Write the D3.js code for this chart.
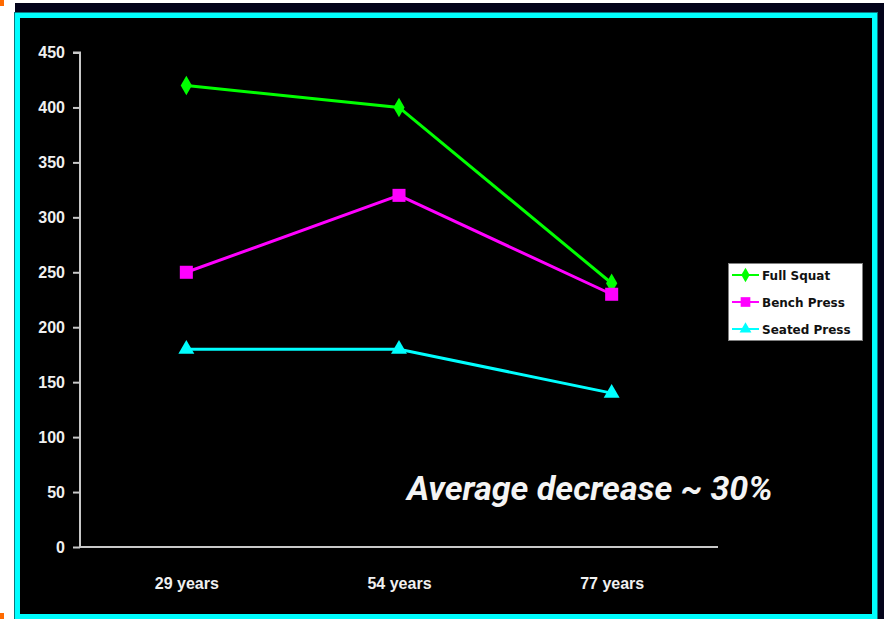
<!DOCTYPE html>
<html>
<head>
<meta charset="utf-8">
<script src="https://cdn.jsdelivr.net/npm/d3@7"></script>
<style>
  html, body { margin: 0; padding: 0; background: #ffffff; }
  svg { display: block; }
</style>
</head>
<body>
<script>
// Strength by age group (lbs)
const categories = ["29 years", "54 years", "77 years"];
const fullSquat = [420, 400, 240];
const benchPress = [250, 320, 230];
const seatedPress = [180, 180, 140];
const seriesNames = ["Full Squat", "Bench Press", "Seated Press"];
const yTicks = [0, 50, 100, 150, 200, 250, 300, 350, 400, 450];
const note = "Average decrease ~ 30%";

(function () {
const W = 884, H = 619;
const svg = d3.select("body").append("svg").attr("width", W).attr("height", H);

// Slide frame: dark backing, cyan border, black panel
svg.append("rect").attr("x", 0).attr("y", 0).attr("width", 4).attr("height", 6).attr("fill", "#ff6a00");
svg.append("rect").attr("x", 0).attr("y", 613).attr("width", 4).attr("height", 6).attr("fill", "#ff6a00");
svg.append("rect").attr("x", 15).attr("y", 3).attr("width", W - 15).attr("height", H - 3).attr("fill", "#03031a");
svg.append("rect").attr("x", 17.5).attr("y", 15.5).attr("width", 857).attr("height", 601)
  .attr("fill", "#000").attr("stroke", "#00ffff").attr("stroke-width", 5);
svg.append("rect").attr("x", 14.5).attr("y", 12.5).attr("width", 863).attr("height", 607)
  .attr("fill", "none").attr("stroke", "#0a7a80").attr("stroke-width", 1);

const plotLeft = 80, plotRight = 718, plotTop = 52.5, plotBottom = 547;

const x = d3.scalePoint().domain(categories).range([plotLeft, plotRight]).padding(0.5);
const y = d3.scaleLinear().domain([0, 450]).range([plotBottom, plotTop]);

const fontAxis = "'Liberation Sans Narrow', 'Arial Narrow', 'Liberation Sans', Arial, sans-serif";

// Y axis
const yAxis = svg.append("g").attr("transform", `translate(${plotLeft},0)`)
  .call(d3.axisLeft(y).tickValues(yTicks).tickSize(7).tickPadding(8).tickFormat(d3.format("d")));
yAxis.select(".domain").attr("stroke", "#c8c8c8").attr("stroke-width", 2).attr("d", `M-7,${plotTop}H0V${plotBottom}`);
yAxis.selectAll(".tick line").attr("stroke", "#c8c8c8").attr("stroke-width", 2);
yAxis.selectAll(".tick text").attr("fill", "#f0f0f0").attr("font-family", fontAxis)
  .attr("font-weight", "bold").attr("font-size", 16);

// X axis
const xAxis = svg.append("g").attr("transform", `translate(0,${plotBottom})`)
  .call(d3.axisBottom(x).tickSize(0).tickPadding(31));
xAxis.select(".domain").attr("stroke", "#c8c8c8").attr("stroke-width", 2).attr("d", `M${plotLeft},0H${plotRight}`);
xAxis.selectAll(".tick text").attr("fill", "#f0f0f0").attr("font-family", fontAxis)
  .attr("font-weight", "bold").attr("font-size", 16);

const series = [
  { name: seriesNames[0], values: fullSquat, color: "#00ff00", symbol: d3.symbolDiamond, size: 110 },
  { name: seriesNames[1], values: benchPress, color: "#ff00ff", symbol: d3.symbolSquare, size: 170 },
  { name: seriesNames[2], values: seatedPress, color: "#00ffff", symbol: d3.symbolTriangle, size: 110 }
];

const line = d3.line().x((d, i) => x(categories[i])).y(d => y(d));

series.forEach(s => {
  svg.append("path").datum(s.values).attr("d", line)
    .attr("fill", "none").attr("stroke", s.color).attr("stroke-width", 3);
  svg.selectAll(null).data(s.values).enter().append("path")
    .attr("transform", (d, i) => `translate(${x(categories[i])},${y(d)})`)
    .attr("d", d3.symbol().type(s.symbol).size(s.size))
    .attr("fill", s.color);
});

// Legend
const lg = svg.append("g").attr("transform", "translate(728,263)");
lg.append("rect").attr("x", 0.5).attr("y", 0.5).attr("width", 134).attr("height", 77)
  .attr("fill", "#ffffff").attr("stroke", "#808080").attr("stroke-width", 1);
series.forEach((s, i) => {
  const cy = 12 + i * 27;
  lg.append("line").attr("x1", 4).attr("x2", 31).attr("y1", cy).attr("y2", cy)
    .attr("stroke", s.color).attr("stroke-width", 2);
  lg.append("path").attr("transform", `translate(17.5,${cy})`)
    .attr("d", d3.symbol().type(s.symbol).size(s.size * 0.55)).attr("fill", s.color);
  lg.append("text").attr("x", 34).attr("y", cy + 5).text(s.name)
    .attr("font-family", "'DejaVu Sans', Verdana, sans-serif").attr("font-weight", "bold")
    .attr("font-size", 12).attr("fill", "#111");
});

// Annotation
svg.append("text").attr("x", 407).attr("y", 500).text(note)
  .attr("font-family", "Roboto, 'Liberation Sans', Arial, sans-serif")
  .attr("font-style", "italic").attr("font-weight", "bold").attr("font-size", 34)
  .attr("fill", "#f4f4f4");
})();
</script>
</body>
</html>
